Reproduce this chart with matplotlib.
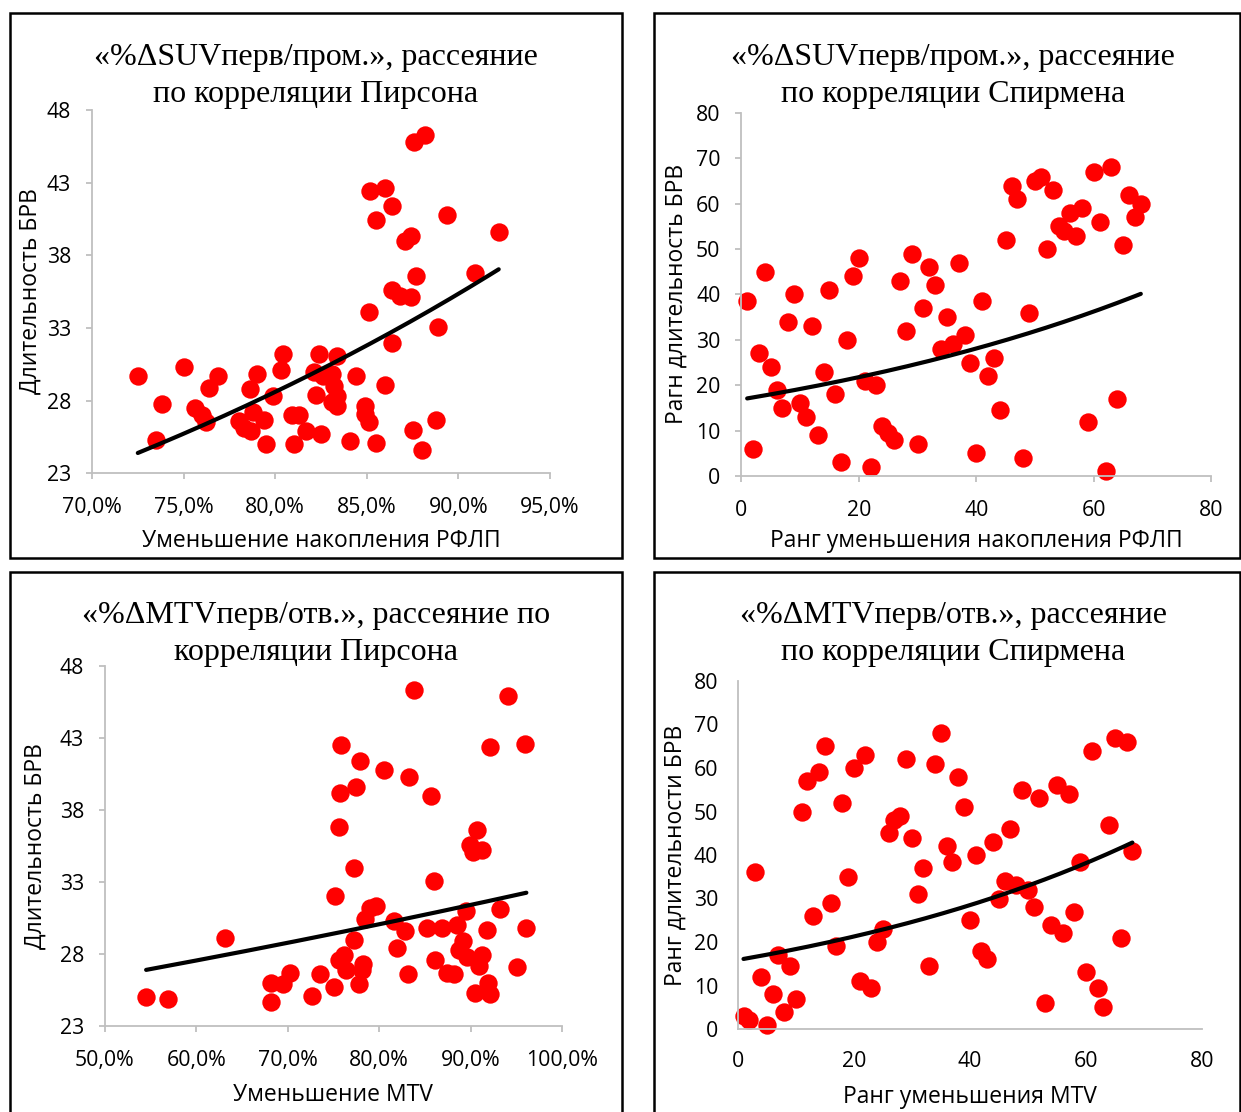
""" Four scatter panels: %ΔSUV and %ΔMTV vs duration, Pearson and Spearman """
import numpy as np
import matplotlib
matplotlib.use('Agg')
import matplotlib.pyplot as plt
from matplotlib.patches import Rectangle
from matplotlib.ticker import FuncFormatter

# panel 1: SUV decrease (%) vs duration
suv_pct = [72.5, 73.5, 73.8, 75.0, 75.6, 76.0, 76.2, 76.4, 76.9, 78.0, 78.3, 78.7, 78.6,
           78.8, 79.0, 79.4, 79.5, 79.9, 80.3, 80.4, 80.9, 81.3, 81.0, 81.7, 82.2, 82.1,
           82.4, 82.5, 82.6, 83.1, 83.4, 83.2, 83.4, 83.1, 83.4, 84.1, 84.4, 84.9, 84.9,
           85.1, 85.5, 85.1, 86.0, 86.4, 85.2, 86.0, 85.5, 86.4, 87.1, 87.4, 86.4, 86.8,
           87.4, 87.7, 87.6, 88.2, 88.9, 89.4, 87.5, 88.8, 88.0, 90.9, 92.2]
suv_dur = [29.7, 25.3, 27.8, 30.3, 27.5, 27.0, 26.5, 28.9, 29.7, 26.6, 26.1, 25.9, 28.8,
           27.2, 29.8, 26.7, 25.0, 28.3, 30.1, 31.2, 27.0, 27.0, 25.0, 25.9, 28.4, 30.0,
           31.2, 25.7, 29.7, 29.8, 31.1, 29.0, 28.3, 27.9, 27.6, 25.2, 29.7, 27.6, 27.1,
           26.5, 25.1, 34.1, 29.1, 32.0, 42.4, 42.6, 40.4, 41.4, 39.0, 39.3, 35.6, 35.2,
           35.1, 36.6, 45.8, 46.3, 33.1, 40.8, 26.0, 26.7, 24.6, 36.8, 39.6]
suv_trend = [5.25, 0.02119]   # y = a * exp(b * x)

# panel 2: ranks for SUV
suv_rank_x = list(range(1, 69))
suv_rank_y = [38.5, 6, 27, 45, 24, 19, 15, 34, 40, 16, 13, 33, 9, 23, 41, 18, 3, 30, 44, 48,
              21, 2, 20, 11, 9.5, 8, 43, 32, 49, 7, 37, 46, 42, 28, 35, 29, 47, 31, 25, 5,
              38.5, 22, 26, 14.5, 52, 64, 61, 4, 36, 65, 66, 50, 63, 55, 54, 58, 53, 59, 12, 67,
              56, 1, 68, 17, 51, 62, 57, 60]
suv_rank_trend = [16.88, 0.01274]

# panel 3: MTV decrease (%) vs duration
mtv_pct = [54.5, 56.9, 63.1, 68.2, 68.2, 69.5, 70.2, 72.6, 73.5, 75.0, 75.2, 75.6, 75.7,
           75.8, 75.6, 76.2, 76.4, 77.2, 77.2, 77.5, 77.9, 77.8, 78.2, 78.1, 78.5, 79.0,
           79.7, 80.5, 81.6, 82.0, 82.8, 83.2, 83.3, 83.8, 85.2, 85.7, 86.0, 86.1, 86.9,
           87.4, 88.2, 88.5, 88.7, 89.2, 89.5, 89.6, 89.9, 90.3, 90.7, 90.5, 90.9, 91.2,
           91.2, 91.8, 91.9, 92.1, 92.1, 93.2, 94.1, 95.1, 95.9, 96.1]
mtv_dur = [25.0, 24.9, 29.1, 26.0, 24.7, 25.9, 26.7, 25.1, 26.6, 25.7, 32.0, 36.8, 39.2,
           42.5, 27.6, 27.9, 26.9, 29.0, 34.0, 39.6, 41.4, 25.9, 27.3, 26.9, 30.4, 31.2,
           31.3, 40.8, 30.3, 28.4, 29.6, 26.6, 40.3, 46.3, 29.8, 39.0, 33.1, 27.6, 29.8,
           26.7, 26.6, 30.0, 28.3, 28.9, 31.0, 27.8, 35.6, 35.1, 36.6, 25.3, 27.2, 27.9,
           35.2, 29.7, 26.0, 25.2, 42.4, 31.1, 45.9, 27.1, 42.6, 29.8]
mtv_trend = [21.20, 0.004367]

# panel 4: ranks for MTV
mtv_rank_x = list(range(1, 69))
mtv_rank_y = [3, 2, 36, 12, 1, 8, 17, 4, 14.5, 7, 50, 57, 26, 59, 65, 29, 19, 52, 35, 60,
              11, 63, 9.5, 20, 23, 45, 48, 49, 62, 44, 31, 37, 14.5, 61, 68, 42, 38.5, 58, 51, 25,
              40, 18, 16, 43, 30, 34, 46, 33, 55, 32, 28, 53, 6, 24, 56, 22, 54, 27, 38.5, 13,
              64, 9.5, 5, 47, 67, 21, 66, 41]
mtv_rank_trend = [15.87, 0.01461]

W, H = 1241, 1112
GRAY = '#BFBFBF'
SERIF = 'Liberation Serif'
SANS = 'Open Sans'


def pct_fmt(v, pos):
    return ('%.1f%%' % v).replace('.', ',')


def draw_panel(fig, px, xs, ys, trend, xlim, ylim, xstep, ystep, pct, ticks,
               title, title_pos, xlabel, xlabel_pos, ylabel, ylabel_pos):
    x0, x1, ytop, ybot = px
    ax = fig.add_axes([x0 / W, 1 - ybot / H, (x1 - x0) / W, (ybot - ytop) / H])
    ax.scatter(xs, ys, s=175, color='#FF0000', linewidths=0, zorder=2, clip_on=False)
    xt = np.linspace(min(xs), max(xs), 200)
    ax.plot(xt, trend[0] * np.exp(trend[1] * xt), color='black', lw=3, zorder=3,
            solid_capstyle='round', clip_on=False)
    ax.set_xlim(*xlim)
    ax.set_ylim(*ylim)
    ax.set_xticks(np.arange(xlim[0], xlim[1] + 0.01, xstep))
    ax.set_yticks(np.arange(ylim[0], ylim[1] + 0.01, ystep))
    if pct:
        ax.xaxis.set_major_formatter(FuncFormatter(pct_fmt))
    for s in ['top', 'right']:
        ax.spines[s].set_visible(False)
    for s in ['left', 'bottom']:
        ax.spines[s].set_color(GRAY)
        ax.spines[s].set_linewidth(1.3)
    tl = 4 if ticks else 0
    ax.tick_params(axis='both', length=tl, width=1.3, color=GRAY, labelsize=15.3)
    ax.tick_params(axis='y', pad=(11 if ticks else 14))
    ax.tick_params(axis='x', pad=(13 if ticks else 16))
    for lab in ax.get_xticklabels() + ax.get_yticklabels():
        lab.set_fontfamily(SANS)

    fig.text(title_pos[0] / W, 1 - title_pos[1] / H, title, family=SERIF, fontsize=23,
             ha='center', va='center', linespacing=1.37)
    fig.text(xlabel_pos[0] / W, 1 - xlabel_pos[1] / H, xlabel, family=SANS, fontsize=16.5,
             ha='center', va='center')
    fig.text(ylabel_pos[0] / W, 1 - ylabel_pos[1] / H, ylabel, family=SANS, fontsize=16.5,
             ha='center', va='center', rotation=90)
    return ax


def main():
    fig = plt.figure(figsize=(W / 100, H / 100), dpi=100)

    # panel frames
    for (bx0, by0, bx1, by1) in [(10, 13, 622, 558), (654, 13, 1240, 558),
                                 (10, 572, 622, 1116), (654, 572, 1240, 1116)]:
        fig.patches.append(Rectangle((bx0 / W, 1 - by1 / H), (bx1 - bx0) / W, (by1 - by0) / H,
                                     transform=fig.transFigure, fill=False,
                                     edgecolor='black', lw=1.8))

    draw_panel(fig, (92, 550, 110, 473.3), suv_pct, suv_dur, suv_trend,
               (70, 95), (23, 48), 5, 5, True, True,
               '«%ΔSUVперв/пром.», рассеяние\nпо корреляции Пирсона', (316, 76),
               'Уменьшение накопления РФЛП', (321, 541),
               'Длительность БРВ', (31, 291))
    draw_panel(fig, (741.3, 1211.3, 113, 476), suv_rank_x, suv_rank_y, suv_rank_trend,
               (0, 80), (0, 80), 20, 10, False, True,
               '«%ΔSUVперв/пром.», рассеяние\nпо корреляции Спирмена', (953, 76),
               'Ранг уменьшения накопления РФЛП', (976, 541),
               'Рагн длительность БРВ', (677, 294))
    draw_panel(fig, (105, 562, 666, 1026), mtv_pct, mtv_dur, mtv_trend,
               (50, 100), (23, 48), 10, 5, True, True,
               '«%ΔMTVперв/отв.», рассеяние по\nкорреляции Пирсона', (316, 634),
               'Уменьшение MTV', (333, 1095),
               'Длительность БРВ', (36, 846))
    draw_panel(fig, (737.7, 1202, 681, 1029), mtv_rank_x, mtv_rank_y, mtv_rank_trend,
               (0, 80), (0, 80), 20, 10, False, False,
               '«%ΔMTVперв/отв.», рассеяние\nпо корреляции Спирмена', (953, 634),
               'Ранг уменьшения MTV', (970, 1097),
               'Ранг длительности БРВ', (676, 855))

    plt.savefig('out.png', dpi=100)


main()
